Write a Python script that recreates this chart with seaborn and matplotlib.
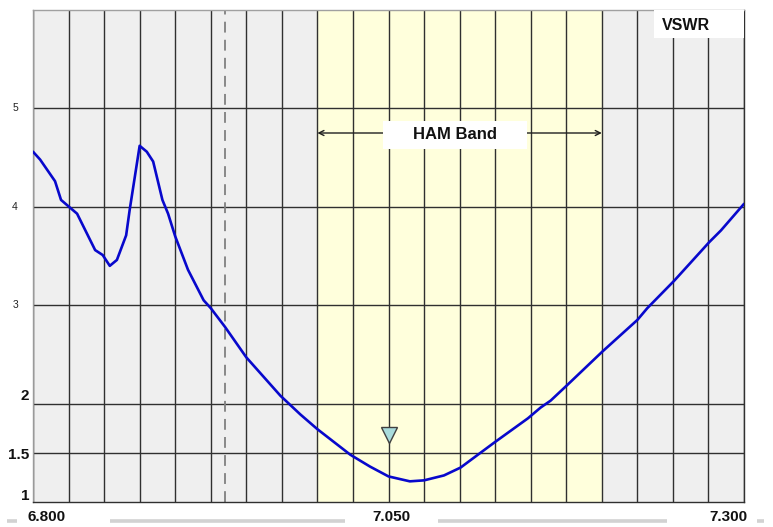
import numpy as np
import pandas as pd
import matplotlib
matplotlib.use("Agg")
import matplotlib.pyplot as plt
import matplotlib.transforms as mtransforms
from matplotlib.lines import Line2D
from matplotlib.patches import Rectangle
from matplotlib.ticker import MultipleLocator
import seaborn as sns

# ---------------- data ----------------
freq_mhz = [6.800, 6.805, 6.8155, 6.8197, 6.831, 6.8437, 6.849, 6.854, 6.859,
            6.8655, 6.868, 6.875, 6.880, 6.8845, 6.891, 6.895, 6.900, 6.909,
            6.920, 6.925, 6.935, 6.950, 6.974, 6.988, 7.000, 7.0232,
            7.037, 7.050, 7.065, 7.075, 7.089, 7.1007, 7.124, 7.148, 7.157,
            7.164, 7.1758, 7.2005, 7.225, 7.232, 7.251, 7.2755, 7.2838, 7.300]
vswr = [4.56, 4.48, 4.26, 4.07, 3.93, 3.56, 3.51, 3.40, 3.46,
        3.71, 3.97, 4.62, 4.56, 4.46, 4.07, 3.93, 3.70, 3.36,
        3.05, 2.97, 2.78, 2.47, 2.08, 1.89, 1.74, 1.48,
        1.36, 1.26, 1.21, 1.22, 1.27, 1.35, 1.60, 1.85, 1.96,
        2.03, 2.19, 2.53, 2.85, 2.97, 3.25, 3.64, 3.76, 4.03]

x_range = [6.800, 7.300]
y_range = [1.0, 6.0]
grid_step_x = 0.025
grid_y = [1.5, 2, 3, 4, 5]
ham_band = [7.000, 7.200]
ham_label = "HAM Band"
ham_arrow_y = 4.75
dashed_freq = 6.935
marker_freq = [7.050]
marker_vswr = [1.68]
x_tick_values = [6.800, 7.050, 7.300]
x_tick_labels = ["6.800", "7.050", "7.300"]
y_bold_values = [1, 1.5, 2]
y_bold_labels = ["1", "1.5", "2"]
y_small_values = [3, 4, 5]
y_small_labels = ["3", "4", "5"]
title_text = "VSWR"

df = pd.DataFrame({"freq": freq_mhz, "vswr": vswr})

# ---------------- figure ----------------
sns.set_theme(style="white")
plt.rcParams["font.family"] = ["Liberation Sans", "DejaVu Sans"]

W, H = 773, 527
fig = plt.figure(figsize=(W / 100, H / 100), dpi=100)
L, R, T, B = 33, 744, 10, 502
ax = fig.add_axes([L / W, (H - B) / H, (R - L) / W, (B - T) / H])
ax.set_facecolor("#efefef")
ax.set_xlim(*x_range)
ax.set_ylim(*y_range)

# band
ax.axvspan(ham_band[0], ham_band[1], color="#ffffdc", zorder=0)

# grid
ax.xaxis.set_major_locator(MultipleLocator(grid_step_x))
ax.set_yticks(grid_y)
ax.set_xticklabels([])
ax.set_yticklabels([])
ax.tick_params(length=0)
ax.grid(True, color="#303030", linewidth=1.0, zorder=1)
ax.set_axisbelow(True)

for side, col in [("left", "#9a9a9a"), ("top", "#a0a0a0"),
                  ("bottom", "#303030"), ("right", "#303030")]:
    ax.spines[side].set_color(col)
    ax.spines[side].set_linewidth(1.0)

# dashed marker line
ax.axvline(dashed_freq, color="#808080", linestyle=(0, (6, 4)), linewidth=1.3, zorder=2)

# curve
sns.lineplot(data=df, x="freq", y="vswr", ax=ax, color="#0808cc",
             linewidth=1.9, zorder=5, sort=False)
ax.set_xlabel("")
ax.set_ylabel("")

# marker triangle
ax.plot(marker_freq, marker_vswr, marker="v", linestyle="none", markersize=11.5,
        markerfacecolor="#a9dcdc", markeredgecolor="#404040", markeredgewidth=1.0,
        zorder=6)

# HAM band arrow + label
ax.annotate("", xy=(ham_band[0], ham_arrow_y), xytext=(ham_band[1], ham_arrow_y),
            arrowprops=dict(arrowstyle="<->", color="#202020", lw=1.0,
                            shrinkA=0, shrinkB=0, mutation_scale=9),
            zorder=3)
ax.add_patch(Rectangle((0.4923, 0.7175), 0.2025, 0.0569, transform=ax.transAxes,
                       facecolor="white", edgecolor="none", zorder=4))
ax.text(np.mean(ham_band) - 0.003, 0.746, ham_label,
        transform=mtransforms.blended_transform_factory(ax.transData, ax.transAxes),
        ha="center", va="center", fontsize=12, fontweight="bold", color="#111111", zorder=5)

# VSWR title box
ax.add_patch(Rectangle((0.873, 0.943), 0.1265, 0.057, transform=ax.transAxes,
                       facecolor="white", edgecolor="none", zorder=4, clip_on=False))
ax.text(0.885, 0.9695, title_text, transform=ax.transAxes, ha="left", va="center",
        fontsize=11.5, fontweight="bold", color="#111111", zorder=5)

# y labels
ytrans = mtransforms.blended_transform_factory(ax.transAxes, ax.transData)
bold_dy = [6, -2, 8]
for v, lab, dy in zip(y_bold_values, y_bold_labels, bold_dy):
    tr = mtransforms.offset_copy(ytrans, fig=fig, x=-4, y=dy, units="dots")
    ax.text(0, v, lab, transform=tr, ha="right", va="center", fontsize=11,
            fontweight="bold", color="#111111", clip_on=False)
for v, lab in zip(y_small_values, y_small_labels):
    tr = mtransforms.offset_copy(ytrans, fig=fig, x=-15, y=0, units="dots")
    ax.text(0, v, lab, transform=tr, ha="right", va="center", fontsize=7.5,
            color="#222222", clip_on=False)

# x labels
xtrans = mtransforms.blended_transform_factory(ax.transData, ax.transAxes)
x_has = ["left", "center", "right"]
x_dx = [-5, 3, 3]
for v, lab, ha, dx in zip(x_tick_values, x_tick_labels, x_has, x_dx):
    tr = mtransforms.offset_copy(xtrans, fig=fig, x=dx, y=-15, units="dots")
    ax.text(v, 0, lab, transform=tr, ha=ha, va="center", fontsize=11,
            fontweight="bold", color="#111111", clip_on=False)

# decorative bottom bars
bar_y = (H - 521) / H
for x0, x1 in [(7, 17), (110, 345), (438, 667), (757, 764)]:
    fig.add_artist(Line2D([x0 / W, x1 / W], [bar_y, bar_y], transform=fig.transFigure,
                          color="#d2d2d2", linewidth=2.6, solid_capstyle="butt"))

fig.savefig("out.png", dpi=100, facecolor="white")
